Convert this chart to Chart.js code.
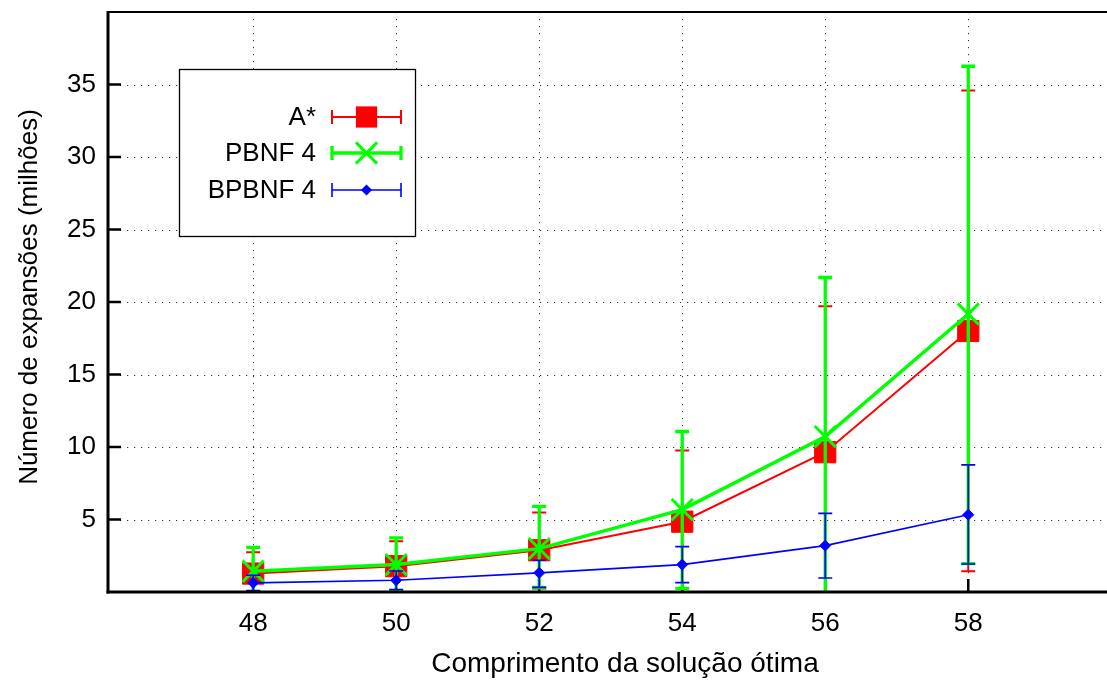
<!DOCTYPE html>
<html>
<head>
<meta charset="utf-8">
<script src="https://cdn.jsdelivr.net/npm/chart.js@4/dist/chart.umd.min.js"></script>
<style>
  html, body { margin: 0; padding: 0; background: #fff; overflow: hidden; }
  #wrap { width: 1107px; height: 684px; }
</style>
</head>
<body>
<div id="wrap"><canvas id="c" width="1107" height="684"></canvas></div>
<script>
// Optimal solution length (x axis)
const solutionLengths = [48, 50, 52, 54, 56, 58];

// Mean node expansions (millions) and error-bar bounds per algorithm
const aStarMean = [1.27, 1.78, 2.88, 4.85, 9.64, 18.0];
const aStarLow  = [-0.2, 0.06, 0.25, -0.06, -0.42, 1.43];
const aStarHigh = [2.74, 3.50, 5.49, 9.76, 19.70, 34.58];

const pbnfMean = [1.43, 1.89, 2.99, 5.68, 10.72, 19.17];
const pbnfLow  = [-0.22, 0.05, 0.31, 0.25, -0.25, 1.96];
const pbnfHigh = [3.08, 3.73, 5.90, 11.07, 21.69, 36.26];

const bpbnfMean = [0.63, 0.81, 1.32, 1.89, 3.20, 5.33];
const bpbnfLow  = [0.10, 0.17, 0.32, 0.65, 0.97, 1.93];
const bpbnfHigh = [1.16, 1.45, 2.19, 3.13, 5.42, 8.77];

const seriesNames = ['A*', 'PBNF 4', 'BPBNF 4'];
const xTickValues = [48, 50, 52, 54, 56, 58];
const yTickValues = [5, 10, 15, 20, 25, 30, 35];
const xTitle = 'Comprimento da solução ótima';
const yTitle = 'Número de expansões (milhões)';

const FONT = '"Liberation Sans", Arial, sans-serif';
const FONT_SIZE = 26;

const pts = (ys) => solutionLengths.map((x, i) => ({ x, y: ys[i] }));

const datasets = [
  {
    label: seriesNames[0], data: pts(aStarMean), low: aStarLow, high: aStarHigh,
    borderColor: '#ff0000', backgroundColor: '#ff0000', borderWidth: 2,
    pointStyle: 'rect', pointRadius: 15, pointBorderWidth: 1,
    pointBackgroundColor: '#ff0000', pointBorderColor: '#ff0000',
    barWidth: 2, cap: 7, order: 3
  },
  {
    label: seriesNames[1], data: pts(pbnfMean), low: pbnfLow, high: pbnfHigh,
    borderColor: '#00ff00', backgroundColor: '#00ff00', borderWidth: 3.5,
    pointStyle: 'crossRot', pointRadius: 15, pointBorderWidth: 3,
    pointBackgroundColor: '#00ff00', pointBorderColor: '#00ff00',
    barWidth: 3.3, cap: 7, order: 2
  },
  {
    label: seriesNames[2], data: pts(bpbnfMean), low: bpbnfLow, high: bpbnfHigh,
    borderColor: '#0000ff', backgroundColor: '#0000ff', borderWidth: 1.6,
    pointStyle: 'rectRot', pointRadius: 5.5, pointBorderWidth: 1,
    pointBackgroundColor: '#0000ff', pointBorderColor: '#0000ff',
    barWidth: 1.6, cap: 7, order: 1
  }
];

function drawMarker(ctx, ds, x, y) {
  ctx.save();
  ctx.fillStyle = ds.pointBackgroundColor;
  ctx.strokeStyle = ds.pointBorderColor;
  ctx.lineWidth = ds.pointBorderWidth;
  const r = ds.pointRadius;
  if (ds.pointStyle === 'rect') {
    const s = r * Math.SQRT1_2;
    ctx.fillRect(x - s, y - s, 2 * s, 2 * s);
  } else if (ds.pointStyle === 'crossRot') {
    const o = r * Math.SQRT1_2;
    ctx.beginPath();
    ctx.moveTo(x - o, y - o); ctx.lineTo(x + o, y + o);
    ctx.moveTo(x - o, y + o); ctx.lineTo(x + o, y - o);
    ctx.stroke();
  } else {
    ctx.beginPath();
    ctx.moveTo(x, y - r); ctx.lineTo(x + r, y); ctx.lineTo(x, y + r); ctx.lineTo(x - r, y);
    ctx.closePath(); ctx.fill();
  }
  ctx.restore();
}

// Error bars, drawn right after each series so later series overlap earlier ones
const errorBars = {
  id: 'errorBars',
  afterDatasetDraw(chart, args) {
    const ds = chart.data.datasets[args.index];
    const { ctx, chartArea: a, scales: { x, y } } = chart;
    ctx.save();
    ctx.beginPath();
    ctx.rect(a.left, a.top, a.right - a.left, a.bottom - a.top);
    ctx.clip();
    ctx.strokeStyle = ds.borderColor;
    ctx.lineWidth = ds.barWidth;
    ds.data.forEach((p, i) => {
      const px = x.getPixelForValue(p.x);
      const yl = y.getPixelForValue(ds.low[i]);
      const yh = y.getPixelForValue(ds.high[i]);
      ctx.beginPath();
      ctx.moveTo(px, yl); ctx.lineTo(px, yh);
      ctx.moveTo(px - ds.cap, yl); ctx.lineTo(px + ds.cap, yl);
      ctx.moveTo(px - ds.cap, yh); ctx.lineTo(px + ds.cap, yh);
      ctx.stroke();
    });
    ctx.restore();
  }
};

// Dotted grid, inward tick marks, plot frame, titles and the boxed key
const frame = {
  id: 'frame',
  beforeDatasetsDraw(chart) {
    const { ctx, chartArea: a, scales: { x, y } } = chart;
    ctx.save();
    ctx.strokeStyle = 'rgba(0,0,0,0.8)';
    ctx.lineWidth = 1;
    ctx.setLineDash([1.2, 5.8]);
    yTickValues.forEach(v => {
      const py = Math.round(y.getPixelForValue(v)) + 0.5;
      ctx.beginPath(); ctx.moveTo(a.left + 12, py); ctx.lineTo(a.right, py); ctx.stroke();
    });
    xTickValues.forEach(v => {
      const px = Math.round(x.getPixelForValue(v)) + 0.5;
      ctx.beginPath(); ctx.moveTo(px, a.top); ctx.lineTo(px, a.bottom - 12); ctx.stroke();
    });
    ctx.setLineDash([]);
    ctx.strokeStyle = '#000';
    ctx.lineWidth = 2.5;
    yTickValues.forEach(v => {
      const py = y.getPixelForValue(v);
      ctx.beginPath(); ctx.moveTo(a.left, py); ctx.lineTo(a.left + 13, py); ctx.stroke();
    });
    xTickValues.forEach(v => {
      const px = x.getPixelForValue(v);
      ctx.beginPath(); ctx.moveTo(px, a.bottom); ctx.lineTo(px, a.bottom - 13); ctx.stroke();
    });
    ctx.restore();
  },
  afterDatasetsDraw(chart) {
    const { ctx, chartArea: a } = chart;
    ctx.save();
    ctx.strokeStyle = '#000';
    // frame
    ctx.lineWidth = 3;
    ctx.beginPath(); ctx.moveTo(a.left, a.top - 1); ctx.lineTo(a.left, a.bottom + 1.5); ctx.stroke();
    ctx.beginPath(); ctx.moveTo(a.left - 1.5, a.bottom); ctx.lineTo(a.right, a.bottom); ctx.stroke();
    ctx.lineWidth = 2;
    ctx.beginPath(); ctx.moveTo(a.left, a.top); ctx.lineTo(a.right, a.top); ctx.stroke();

    // axis titles
    ctx.fillStyle = '#000';
    ctx.textAlign = 'center';
    ctx.textBaseline = 'middle';
    ctx.font = '28px ' + FONT;
    ctx.fillText(xTitle, 625, 664);
    ctx.font = FONT_SIZE + 'px ' + FONT;
    ctx.save();
    ctx.translate(30, 297);
    ctx.rotate(-Math.PI / 2);
    ctx.fillText(yTitle, 0, 0);
    ctx.restore();

    // key box
    const box = { l: 179.5, t: 69.5, r: 415.5, b: 236.5 };
    ctx.fillStyle = '#fff';
    ctx.fillRect(box.l, box.t, box.r - box.l, box.b - box.t);
    ctx.lineWidth = 1.3;
    ctx.strokeStyle = '#000';
    ctx.strokeRect(box.l, box.t, box.r - box.l, box.b - box.t);
    const rows = [117, 153, 190];
    chart.data.datasets.forEach((ds, i) => {
      const ry = rows[i];
      ctx.fillStyle = '#000';
      ctx.textAlign = 'right';
      ctx.textBaseline = 'middle';
      ctx.fillText(ds.label, 316, ry + 1);
      ctx.strokeStyle = ds.borderColor;
      ctx.lineWidth = ds.barWidth;
      ctx.beginPath();
      ctx.moveTo(332, ry); ctx.lineTo(401, ry);
      ctx.moveTo(332, ry - 7); ctx.lineTo(332, ry + 7);
      ctx.moveTo(401, ry - 7); ctx.lineTo(401, ry + 7);
      ctx.stroke();
      drawMarker(ctx, ds, 366.5, ry);
    });
    ctx.restore();
  }
};

const noEdgePadding = (s) => {
  s.paddingLeft = 0; s.paddingRight = 0; s.paddingTop = 0; s.paddingBottom = 0;
};

new Chart(document.getElementById('c'), {
  type: 'line',
  data: { datasets },
  options: {
    responsive: false,
    animation: false,
    devicePixelRatio: 1,
    layout: { autoPadding: false, padding: { top: 12, left: 0, right: 0, bottom: 0 } },
    plugins: { legend: { display: false }, tooltip: { enabled: false } },
    elements: { line: { tension: 0 } },
    scales: {
      x: {
        type: 'linear', min: 45.97, max: 59.94,
        afterBuildTicks: (s) => { s.ticks = xTickValues.map(v => ({ value: v })); },
        afterFit: (s) => { s.height = 92; noEdgePadding(s); },
        grid: { display: false, drawTicks: false },
        border: { display: false },
        ticks: { color: '#000', padding: 16, font: { family: FONT, size: FONT_SIZE } }
      },
      y: {
        type: 'linear', min: 0, max: 40,
        afterBuildTicks: (s) => { s.ticks = yTickValues.map(v => ({ value: v })); },
        afterFit: (s) => { s.width = 108; noEdgePadding(s); },
        grid: { display: false, drawTicks: false },
        border: { display: false },
        ticks: { color: '#000', padding: 12, font: { family: FONT, size: FONT_SIZE } }
      }
    }
  },
  plugins: [errorBars, frame]
});
</script>
</body>
</html>
